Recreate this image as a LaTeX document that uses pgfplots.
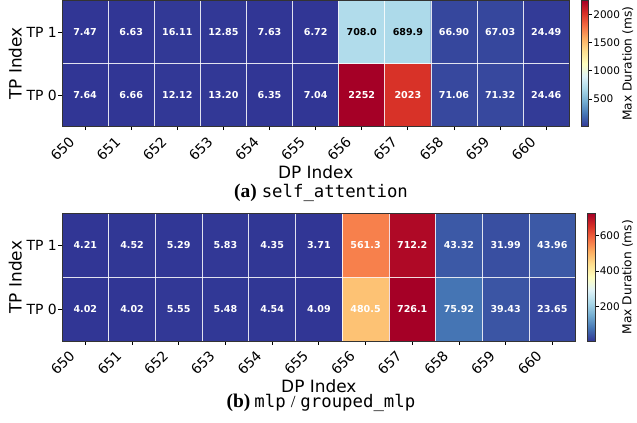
\documentclass[border=0pt]{standalone}
\usepackage{pgfplots}
\pgfplotsset{compat=1.18}
\usepackage{pgfplotstable}
\usepackage{fontspec}
\newfontfamily\dv{DejaVu Sans}
\newfontfamily\capserif{Liberation Serif}
\setmonofont{DejaVu Sans Mono}
\newcommand\fs[1]{\fontsize{#1}{#1}\selectfont}

\pgfplotstableread{
x y v tc
650 0 7.64 0
651 0 6.66 0
652 0 12.12 0
653 0 13.20 0
654 0 6.35 0
655 0 7.04 0
656 0 2252 0
657 0 2023 0
658 0 71.06 0
659 0 71.32 0
660 0 24.46 0
650 1 7.47 0
651 1 6.63 0
652 1 16.11 0
653 1 12.85 0
654 1 7.63 0
655 1 6.72 0
656 1 708.0 1
657 1 689.9 1
658 1 66.90 0
659 1 67.03 0
660 1 24.49 0
}\topdata

\pgfplotstableread{
x y v tc
650 0 4.02 0
651 0 4.02 0
652 0 5.55 0
653 0 5.48 0
654 0 4.54 0
655 0 4.09 0
656 0 480.5 0
657 0 726.1 0
658 0 75.92 0
659 0 39.43 0
660 0 23.65 0
650 1 4.21 0
651 1 4.52 0
652 1 5.29 0
653 1 5.83 0
654 1 4.35 0
655 1 3.71 0
656 1 561.3 0
657 1 712.2 0
658 1 43.32 0
659 1 31.99 0
660 1 43.96 0
}\botdata

\pgfplotsset{
  cmap/.style={colormap={rdylbur}{rgb255=(49,54,149) rgb255=(69,117,180) rgb255=(116,173,209) rgb255=(171,217,233) rgb255=(224,243,248) rgb255=(255,255,191) rgb255=(254,224,144) rgb255=(253,174,97) rgb255=(244,109,67) rgb255=(215,48,39) rgb255=(165,0,38)}},
  hm/.style={
    scale only axis, enlargelimits=false, axis on top,
    xmin=649.5, xmax=660.5, ymin=-0.5, ymax=1.5,
    xtick={650,651,...,660}, ytick={0,1}, yticklabels={TP 0,TP 1},
    xtick pos=bottom, ytick pos=left, tick align=outside, major tick length=3.5bp,
    tick style={black, line width=0.8bp},
    axis line style={black!80, line width=0.8bp},
    /pgf/number format/assume math mode=true,
    /pgf/number format/1000 sep={},
    scaled ticks=false,
    tick label style={font=\dv\fs{14}},
    xticklabel style={xshift=-17bp, yshift=-5bp, rotate=45, anchor=north east, inner sep=0pt},
    yticklabel style={inner sep=1.5bp},
    label style={font=\dv\fs{17}},
    xlabel={DP Index}, ylabel={TP Index},
    ylabel style={inner sep=3bp},
    minor xtick={650.5,651.5,...,659.5},
    minor ytick={0.5},
    minor tick length=0pt,
    xminorgrids=true, yminorgrids=true,
    minor grid style={white, line width=0.8bp, opacity=0.85},
    cmap,
    colorbar,
  },
  cb/.style={
    at={(parent axis.north east)}, anchor=north west, xshift=3.5bp,
    width=7.4bp, scale only axis,
    minor xtick={}, minor ytick={}, xminorgrids=false, yminorgrids=false,
    xlabel={},
    ytick pos=right, yticklabel pos=right,
    tick align=outside, major tick length=3.5bp,
    tick style={black, line width=0.8bp},
    axis line style={black!80, line width=0.8bp},
    tick label style={font=\dv\fs{10.5}},
    yticklabel style={inner sep=1bp, anchor=west, rotate=0, xshift=0pt, yshift=0pt},
    ylabel={Max Duration (ms)},
    ylabel style={font=\dv\fs{12.3}, inner sep=1bp},
    scaled y ticks=false,
    /pgf/number format/1000 sep={},
    /pgf/number format/assume math mode=true,
  },
  lab/.style={draw=none, mark=none, nodes near coords, point meta=explicit symbolic,
    every node near coord/.append style={anchor=center, inner sep=0pt, font=\dv\bfseries\fs{9.6}}},
}

\begin{document}
\begin{tikzpicture}
\useasboundingbox (0,0) rectangle (637bp,-423bp);

\begin{axis}[hm,
  at={(62bp,-0.5bp)}, anchor=north west,
  width=507.3bp, height=126.2bp,
  point meta min=6.35, point meta max=2252,
  colorbar style={cb, height=126.2bp, ytick={500,1000,1500,2000}},
]
\addplot[matrix plot*, mesh/cols=11, mesh/rows=2, point meta=explicit] table[x=x, y=y, meta=v] {\topdata};
\addplot[lab, restrict expr to domain={\thisrow{tc}}{0:0.5}, every node near coord/.append style={text=white}] table[x=x, y=y, meta=v] {\topdata};
\addplot[lab, restrict expr to domain={\thisrow{tc}}{0.5:1}, every node near coord/.append style={text=black}] table[x=x, y=y, meta=v] {\topdata};
\end{axis}

\begin{axis}[hm,
  at={(62bp,-213.3bp)}, anchor=north west,
  width=513.7bp, height=127.7bp,
  point meta min=3.71, point meta max=726.1,
  colorbar style={cb, height=127.7bp, ytick={200,400,600}},
]
\addplot[matrix plot*, mesh/cols=11, mesh/rows=2, point meta=explicit] table[x=x, y=y, meta=v] {\botdata};
\addplot[lab, every node near coord/.append style={text=white}] table[x=x, y=y, meta=v] {\botdata};
\end{axis}

\node[anchor=base, inner sep=0pt] at (321bp,-197.5bp) {{\capserif\bfseries\fs{19.5}(a)}\hspace{5bp}{\ttfamily\fs{17.4}self\_attention}};
\node[anchor=base, inner sep=0pt] at (321bp,-407.5bp) {{\capserif\bfseries\fs{19.5}(b)}\hspace{4bp}{\ttfamily\fs{17.4}mlp}\hspace{5bp}{\capserif\fs{17}/}\hspace{5bp}{\ttfamily\fs{17.4}grouped\_mlp}};
\end{tikzpicture}
\end{document}
